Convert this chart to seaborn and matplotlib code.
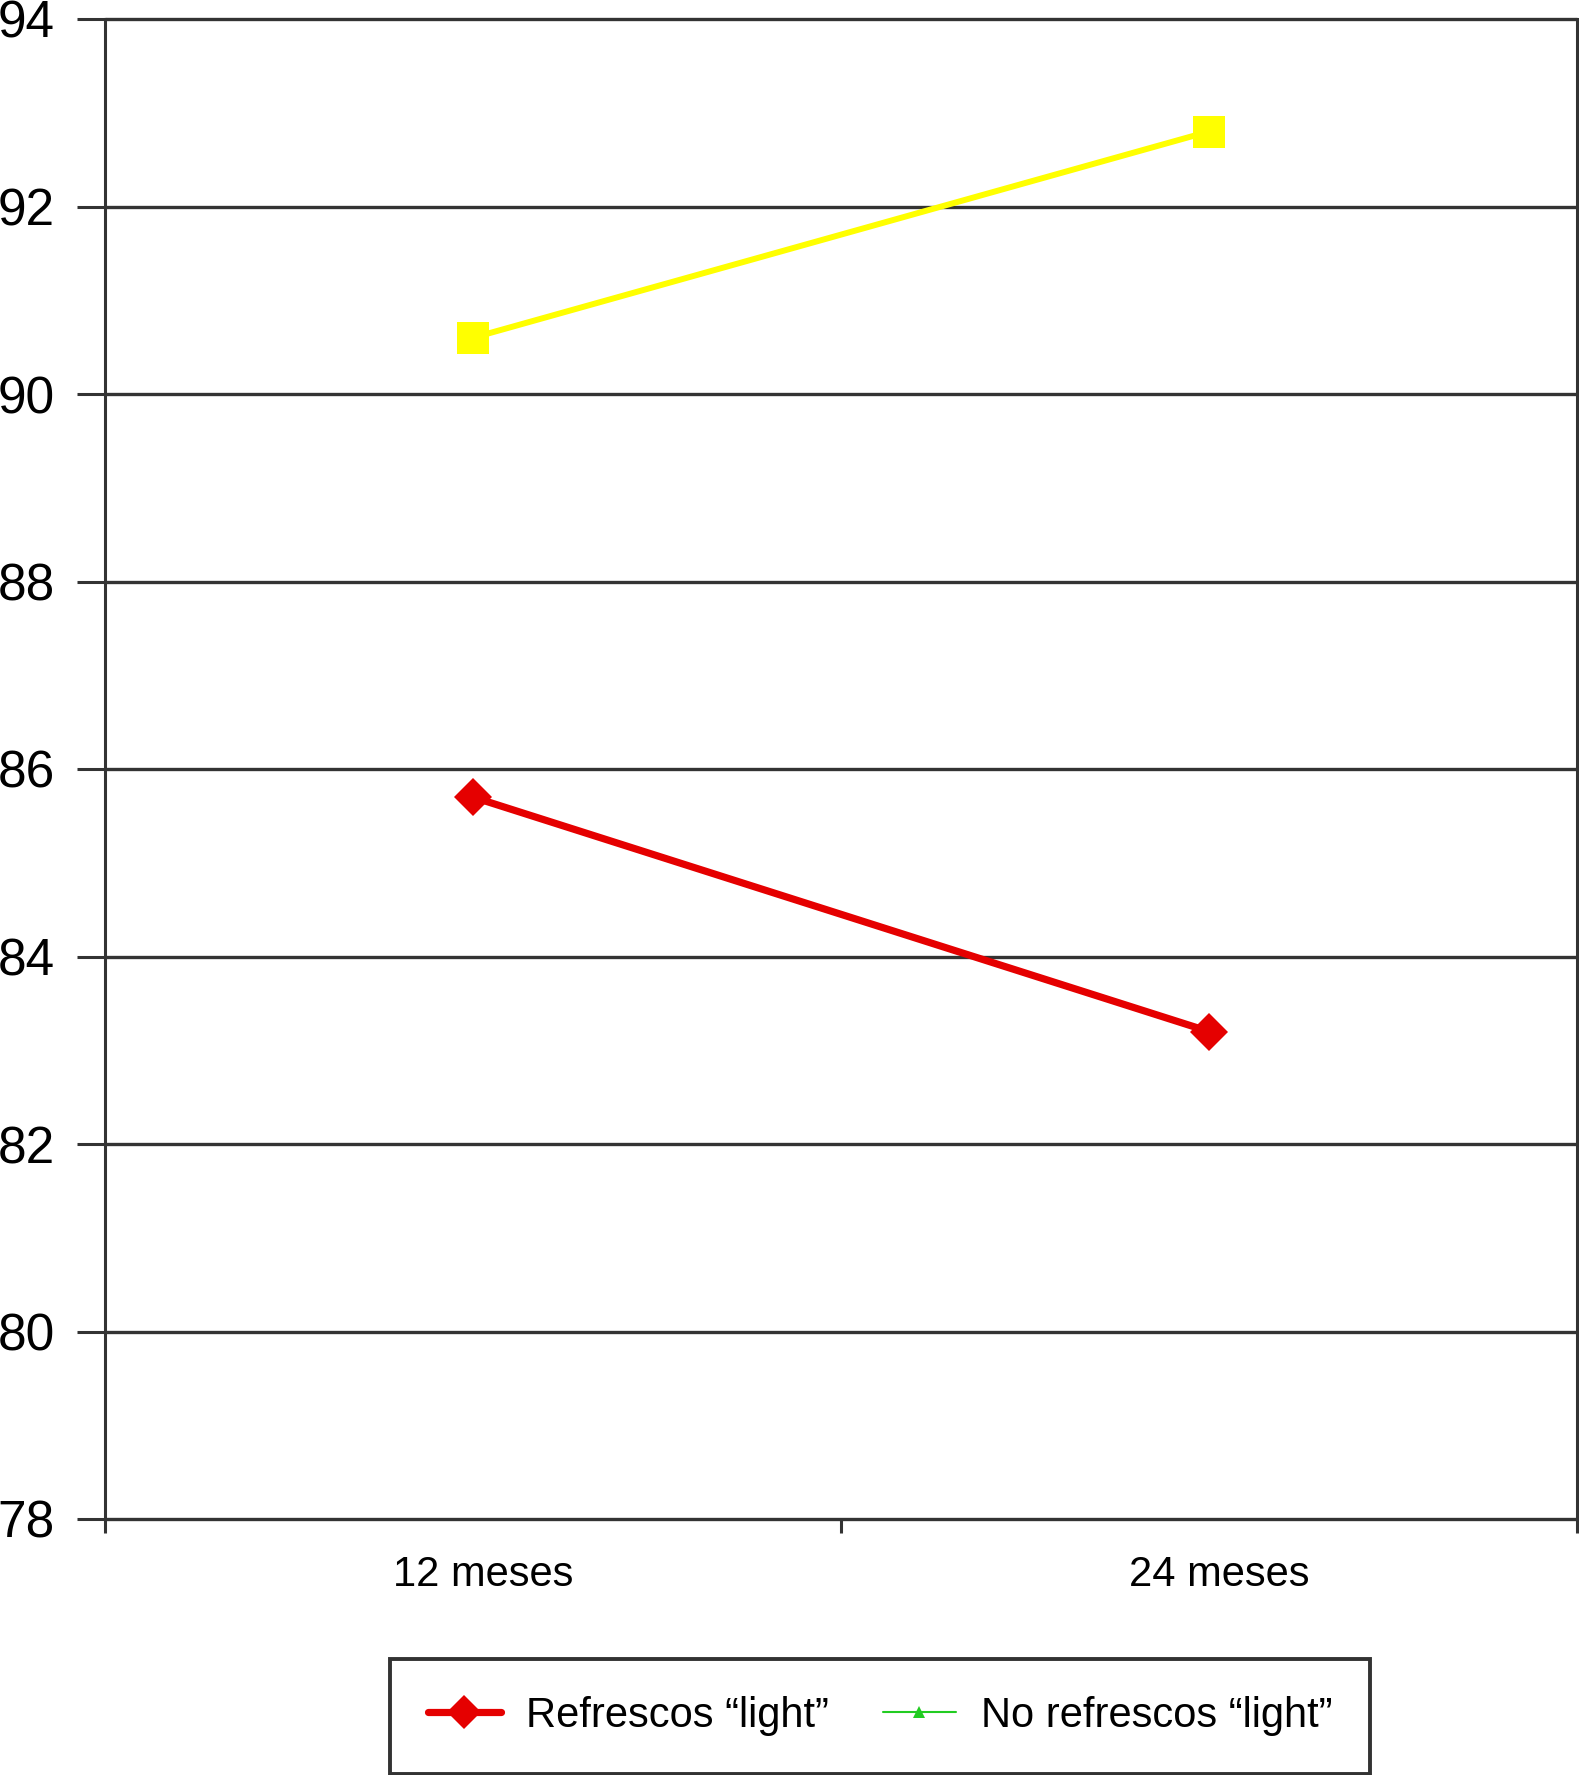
import matplotlib
matplotlib.use("Agg")
import matplotlib.pyplot as plt
from matplotlib.lines import Line2D
import matplotlib.transforms as mtransforms
import seaborn as sns
import pandas as pd
import numpy as np

categories = ["12 meses", "24 meses"]
light_values = [85.7, 83.2]        # Refrescos "light" (red)
no_light_values = [90.6, 92.8]     # yellow series
y_ticks = [78, 80, 82, 84, 86, 88, 90, 92, 94]
legend_labels = ["Refrescos \u201clight\u201d", "No refrescos \u201clight\u201d"]

sns.set_theme(style="white")
plt.rcParams['font.family'] = ['Liberation Sans', 'DejaVu Sans']
plt.rcParams['text.color'] = 'black'
plt.rcParams['xtick.color'] = 'black'
plt.rcParams['ytick.color'] = 'black'

fig = plt.figure(figsize=(15.79, 17.75), dpi=100)
ax = fig.add_axes([105/1579, 256/1775, (1577-105)/1579, (1519-19)/1775])

df_light = pd.DataFrame({"x": categories, "y": light_values})
df_no = pd.DataFrame({"x": categories, "y": no_light_values})

sns.lineplot(data=df_no, x="x", y="y", ax=ax, color="#FFFF00", linewidth=4.3,
             marker="s", markersize=23, markeredgewidth=0, zorder=5)
sns.lineplot(data=df_light, x="x", y="y", ax=ax, color="#E50000", linewidth=5.2,
             marker="D", markersize=19, markeredgewidth=0, zorder=6)

gridc = "#333333"
ax.set_xlim(-0.5, len(categories) - 0.5)
ax.set_ylim(min(y_ticks), max(y_ticks))
ax.set_yticks(y_ticks)
ax.set_yticklabels([str(v) for v in y_ticks], fontsize=37, color="black")
ax.set_xticks(range(len(categories)))
ax.set_xticklabels(categories, fontsize=30, color="black")
ax.set_xticks(np.arange(-0.5, len(categories), 1.0), minor=True)
ax.tick_params(axis="x", which="major", bottom=False, length=0, pad=26)
ax.tick_params(axis="x", which="minor", bottom=True, length=10, width=2.2,
               color=gridc, direction="out")
ax.tick_params(axis="y", which="major", left=True, length=20, width=2.2,
               color=gridc, direction="out", pad=16)
ax.set_xlabel("")
ax.set_ylabel("")

offset = mtransforms.ScaledTranslation(10/100, 0, fig.dpi_scale_trans)
for lab in ax.get_xticklabels():
    lab.set_transform(lab.get_transform() + offset)

for v in y_ticks:
    ax.plot([-0.5, 1.5], [v, v], color=gridc, linewidth=2.4,
            clip_on=False, zorder=1, solid_capstyle="butt")

for s in ["top", "bottom"]:
    ax.spines[s].set_visible(False)
for s in ["left", "right"]:
    ax.spines[s].set_visible(True)
    ax.spines[s].set_color(gridc)
    ax.spines[s].set_linewidth(2.2)

handles = [
    Line2D([], [], color="#E50000", linewidth=5.2, marker="D", markersize=17, markeredgewidth=0),
    Line2D([], [], color="#22CC22", linewidth=1.5, marker="^", markersize=8, markeredgewidth=0),
]
leg = fig.legend(handles, legend_labels, loc="center", bbox_to_anchor=(880/1579, 59/1775),
                 ncol=2, fontsize=30, frameon=True, fancybox=False, edgecolor="black",
                 handlelength=1.75, columnspacing=1.3, borderpad=0.9, handletextpad=0.6,
                 borderaxespad=0.0)
leg.get_frame().set_linewidth(2.8)
for t in leg.get_texts():
    t.set_color("black")

fig.savefig("out.png", dpi=100)
